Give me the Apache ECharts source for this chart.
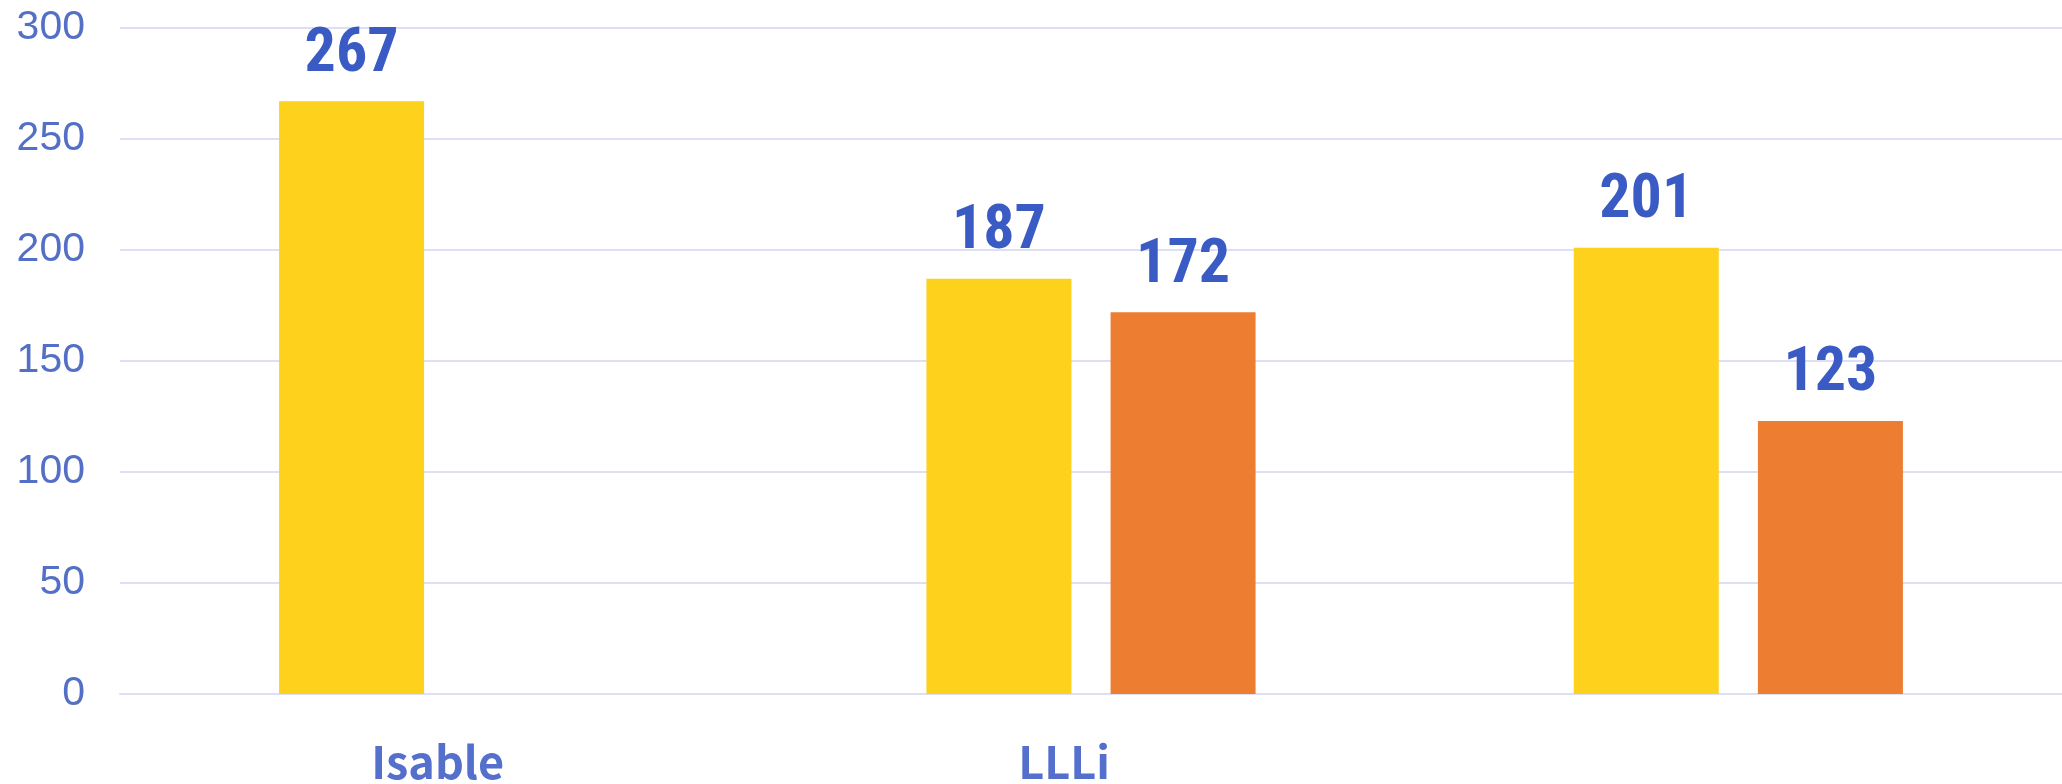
<!DOCTYPE html>
<html>
<head>
<meta charset="utf-8">
<script src="https://cdn.jsdelivr.net/npm/echarts@6/dist/echarts.min.js"></script>
<style>
html,body{margin:0;padding:0;background:#fff;}
#main{width:2062px;height:784px;}
</style>
</head>
<body>
<div id="main"></div>
<script>
const categories = ['Isable', 'LLLi', ''];
const yellowValues = [267, 187, 201];
const orangeValues = [null, 172, 123];
const yTicks = [0, 50, 100, 150, 200, 250, 300];

const chart = echarts.init(document.getElementById('main'), null, {renderer: 'canvas'});
const labelPad = [12, 54, 0];
const valueLabel = {
  show: true,
  position: 'top',
  distance: 15,
  color: '#3A5BC4',
  fontFamily: "'Roboto Condensed','Liberation Sans Narrow','DejaVu Sans Condensed',Roboto,sans-serif",
  fontWeight: 'bold',
  fontSize: 62
};
chart.setOption({
  animation: false,
  backgroundColor: '#ffffff',
  grid: {left: 120, right: 0, top: 28, bottom: 89},
  xAxis: {
    type: 'category',
    data: categories.map((c, i) => ({value: c, textStyle: {padding: [0, labelPad[i], 0, 0]}})),
    axisLine: {show: true, lineStyle: {color: '#DDE0F4', width: 2}},
    axisTick: {show: false},
    axisLabel: {
      margin: 45,
      color: '#5470CC',
      fontFamily: "'Noto Sans CJK SC','Noto Sans',sans-serif",
      fontWeight: 'bold',
      fontSize: 45
    }
  },
  yAxis: {
    type: 'value',
    min: yTicks[0],
    max: yTicks[yTicks.length - 1],
    interval: yTicks[1] - yTicks[0],
    axisLine: {show: false},
    axisTick: {show: false},
    splitLine: {lineStyle: {color: '#DDE0F4', width: 2}},
    axisLabel: {
      margin: 35,
      color: '#5470C6',
      fontFamily: "'Liberation Sans',Arial,sans-serif",
      fontSize: 41
    }
  },
  series: [
    {
      type: 'bar',
      data: yellowValues,
      barWidth: 145,
      barGap: '27%',
      itemStyle: {color: '#FDD11C'},
      label: valueLabel
    },
    {
      type: 'bar',
      data: orangeValues,
      barWidth: 145,
      itemStyle: {color: '#ED7D31'},
      label: valueLabel
    }
  ]
});
</script>
</body>
</html>
